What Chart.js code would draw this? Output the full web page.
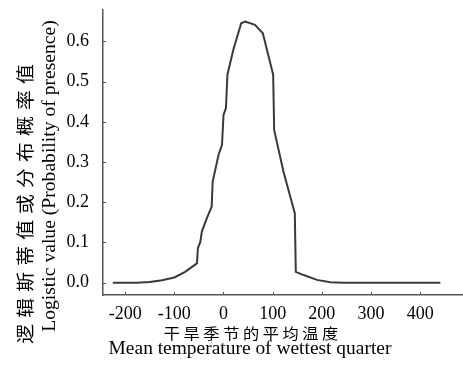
<!DOCTYPE html>
<html>
<head>
<meta charset="utf-8">
<script src="https://cdn.jsdelivr.net/npm/chart.js@4/dist/chart.umd.min.js"></script>
<style>
  html, body { margin: 0; padding: 0; background: #fff; }
  #wrap { width: 463px; height: 365px; }
</style>
</head>
<body>
<div id="wrap"><canvas id="chart" width="463" height="365"></canvas></div>
<script>
// Data
const temps = [-225, -176, -150, -125, -100, -78, -54, -52, -47, -44, -34, -24, -22, -10, -3, 0, 5, 8, 20, 36, 44, 64, 80, 101, 103, 122, 145, 147, 163, 190, 217, 244, 441];
const probs = [0, 0, 0.002, 0.006, 0.013, 0.027, 0.048, 0.086, 0.102, 0.127, 0.16, 0.189, 0.251, 0.318, 0.343, 0.417, 0.434, 0.517, 0.579, 0.645, 0.649, 0.641, 0.62, 0.517, 0.38, 0.276, 0.173, 0.027, 0.019, 0.007, 0.001, 0, 0];

const xTicks = [-200, -100, 0, 100, 200, 300, 400];
const yTicks = [0, 0.1, 0.2, 0.3, 0.4, 0.5, 0.6];

const xTitleZh = '干旱季节的平均温度';
const xTitleEn = 'Mean temperature of wettest quarter';
const yTitleZh = '逻辑斯蒂值或分布概率值';
const yTitleEn = 'Logistic value (Probability of presence)';

const AXIS_COLOR = '#555';
const SERIF = '"Liberation Serif", "Times New Roman", serif';
const CJK = '"Noto Sans CJK SC", sans-serif';

// Inward tick marks
const innerTicks = {
  id: 'innerTicks',
  afterDraw(chart) {
    const { ctx, chartArea, scales } = chart;
    ctx.save();
    ctx.strokeStyle = AXIS_COLOR;
    ctx.lineWidth = 1;
    xTicks.forEach(v => {
      const px = Math.round(scales.x.getPixelForValue(v)) + 0.5;
      ctx.beginPath();
      ctx.moveTo(px, chartArea.bottom);
      ctx.lineTo(px, chartArea.bottom - 3);
      ctx.stroke();
    });
    yTicks.forEach(v => {
      const py = Math.round(scales.y.getPixelForValue(v)) + 0.5;
      ctx.beginPath();
      ctx.moveTo(chartArea.left, py);
      ctx.lineTo(chartArea.left + 3, py);
      ctx.stroke();
    });
    ctx.restore();
  }
};

// text centred at (cx, cy), stretched along its run by sx, with optional letter spacing
function drawTitle(ctx, text, cx, cy, angle, sx, spacing) {
  ctx.save();
  ctx.translate(cx, cy);
  ctx.rotate(angle);
  ctx.scale(sx, 1);
  ctx.letterSpacing = spacing + 'px';
  const w = ctx.measureText(text).width - spacing;
  ctx.textAlign = 'left';
  ctx.fillText(text, -w / 2, 0);
  ctx.restore();
}

const axisTitles = {
  id: 'axisTitles',
  afterDraw(chart) {
    const { ctx } = chart;
    ctx.save();
    ctx.fillStyle = '#000';
    ctx.textBaseline = 'middle';

    ctx.font = '15px ' + CJK;
    drawTitle(ctx, xTitleZh, 251, 333, 0, 1.08, 3.3);
    ctx.font = '18px ' + SERIF;
    drawTitle(ctx, xTitleEn, 250, 349, 0, 1.08, 0);

    ctx.font = '18px ' + SERIF;
    drawTitle(ctx, yTitleEn, 50, 176, -Math.PI / 2, 1.09, 0);
    ctx.font = '18px ' + CJK;
    drawTitle(ctx, yTitleZh, 25, 204, -Math.PI / 2, 1.1, 5.6);

    ctx.restore();
  }
};

const ctx = document.getElementById('chart').getContext('2d');
new Chart(ctx, {
  type: 'line',
  data: {
    datasets: [{
      data: temps.map((t, i) => ({ x: t, y: probs[i] })),
      borderColor: '#3a3a3a',
      borderWidth: 2,
      pointRadius: 0,
      tension: 0,
      fill: false,
    }],
  },
  options: {
    responsive: false,
    animation: false,
    devicePixelRatio: 1,
    layout: { padding: { top: 10, right: 0, left: 0, bottom: 0 } },
    plugins: {
      legend: { display: false },
      tooltip: { enabled: false },
    },
    scales: {
      x: {
        type: 'linear',
        min: -245,
        max: 487,
        grid: { display: false },
        border: { display: true, color: AXIS_COLOR, width: 1.5 },
        afterBuildTicks: scale => { scale.ticks = xTicks.map(v => ({ value: v })); },
        afterFit: scale => {
          scale.height = 70;
          scale.paddingLeft = 0;
          scale.paddingRight = 0;
        },
        ticks: {
          color: '#000',
          padding: 0,
          maxRotation: 0,
          font: { family: SERIF, size: 18 },
          callback: v => String(v),
        },
      },
      y: {
        type: 'linear',
        min: -0.0306,
        max: 0.678,
        grid: { display: false },
        border: { display: true, color: AXIS_COLOR, width: 1.5 },
        afterBuildTicks: scale => { scale.ticks = yTicks.map(v => ({ value: v })); },
        afterFit: scale => {
          scale.width = 103;
          scale.paddingTop = 0;
          scale.paddingBottom = 0;
        },
        ticks: {
          color: '#000',
          padding: 6,
          font: { family: SERIF, size: 18 },
          callback: v => v.toFixed(1),
        },
      },
    },
  },
  plugins: [innerTicks, axisTitles],
});
</script>
</body>
</html>
